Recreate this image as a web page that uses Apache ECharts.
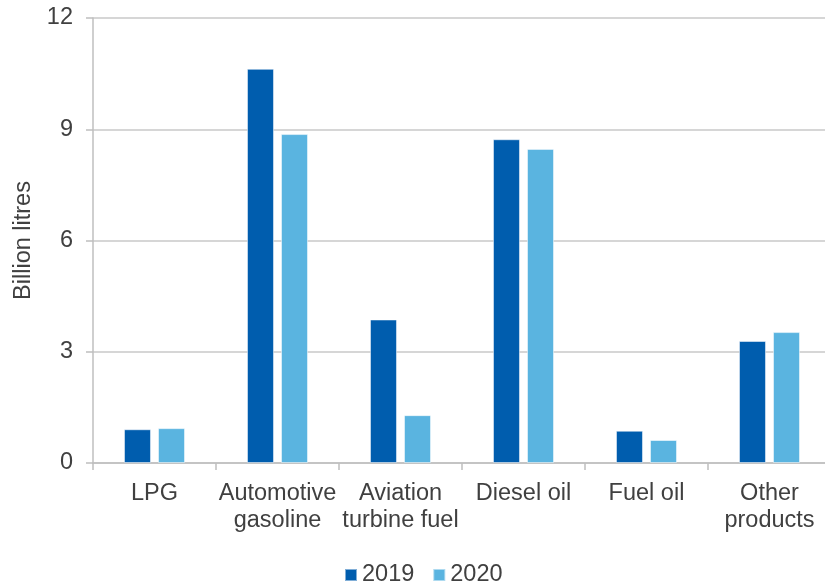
<!DOCTYPE html>
<html>
<head>
<meta charset="utf-8">
<script src="https://cdn.jsdelivr.net/npm/echarts@6/dist/echarts.min.js"></script>
<style>html,body{margin:0;padding:0;background:#fff;}#c{width:825px;height:582px;}</style>
</head>
<body>
<div id="c"></div>
<script>
const categories = ["LPG", "Automotive\ngasoline", "Aviation\nturbine fuel", "Diesel oil", "Fuel oil", "Other\nproducts"];
const seriesNames = ["2019", "2020"];
const values2019 = [0.91, 10.63, 3.87, 8.73, 0.87, 3.29];
const values2020 = [0.94, 8.87, 1.29, 8.47, 0.62, 3.53];
const yTicks = [0, 3, 6, 9, 12];

const font = '"Liberation Sans", Arial, sans-serif';
const textColor = '#404040';
const fs = 23.5;
const chart = echarts.init(document.getElementById('c'), null, {renderer: 'canvas'});
chart.setOption({
  animation: false,
  color: ['#005DAE', '#5AB4E0'],
  textStyle: {fontFamily: font},
  grid: {left: 93, top: 18, right: -6, bottom: 119, containLabel: false, outerBoundsMode: 'none'},
  legend: {
    data: seriesNames,
    top: 558, left: 339,
    itemWidth: 12, itemHeight: 12, itemGap: 18,
    icon: 'rect',
    textStyle: {fontSize: fs, color: textColor, fontFamily: font}
  },
  xAxis: {
    type: 'category',
    data: categories,
    axisLine: {lineStyle: {color: '#BFBFBF', width: 1.5}},
    axisTick: {show: true, length: 7, lineStyle: {color: '#BFBFBF', width: 1.5}},
    axisLabel: {fontSize: fs, color: textColor, margin: 17, lineHeight: 27, interval: 0, fontFamily: font}
  },
  yAxis: {
    type: 'value',
    min: yTicks[0], max: yTicks[yTicks.length - 1], interval: 3,
    name: 'Billion litres',
    nameLocation: 'middle',
    nameGap: 54,
    nameTextStyle: {fontSize: fs, color: textColor, fontFamily: font},
    axisLine: {show: true, lineStyle: {color: '#BFBFBF', width: 1.5}},
    axisTick: {show: true, length: 7, lineStyle: {color: '#BFBFBF', width: 1.5}},
    axisLabel: {fontSize: fs, color: textColor, margin: 20, fontFamily: font},
    splitLine: {show: true, lineStyle: {color: '#C8C8C8', width: 1.5}}
  },
  series: [
    {name: seriesNames[0], type: 'bar', data: values2019, barWidth: 27, barGap: '26%',
     itemStyle: {borderColor: 'rgba(255,255,255,0.5)', borderWidth: 1}},
    {name: seriesNames[1], type: 'bar', data: values2020, barWidth: 27, barGap: '26%',
     itemStyle: {borderColor: 'rgba(255,255,255,0.5)', borderWidth: 1}}
  ]
});
</script>
</body>
</html>
